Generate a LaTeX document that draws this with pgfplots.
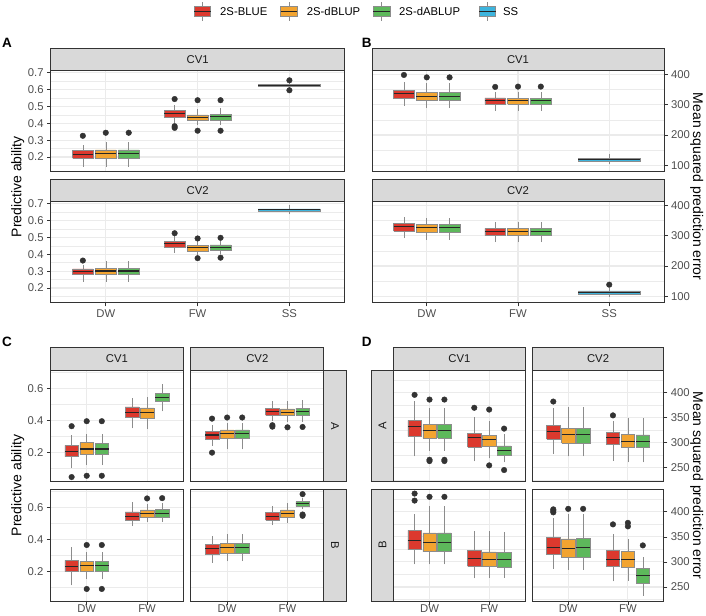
\documentclass[border=0pt]{standalone}
\usepackage{fontspec}
\setmainfont{Liberation Sans}
\usepackage{pgfplots}
\pgfplotsset{compat=1.18}

\definecolor{cRed}{HTML}{DC392E}
\definecolor{cOrange}{HTML}{F2A431}
\definecolor{cGreen}{HTML}{5DB85B}
\definecolor{cBlue}{HTML}{3DB4DD}
\definecolor{cBox}{HTML}{8C8C8C}
\definecolor{cMed}{HTML}{262626}
\definecolor{cOut}{HTML}{333333}
\definecolor{cFrame}{HTML}{333333}
\definecolor{cGrid}{HTML}{EBEBEB}
\definecolor{cStrip}{HTML}{D9D9D9}
\definecolor{cTick}{HTML}{4D4D4D}
\definecolor{cStripText}{HTML}{1A1A1A}

\newcommand\smallfont{\fontsize{11.3bp}{13bp}\selectfont}
\newcommand\titlefont{\fontsize{14bp}{16bp}\selectfont}
\newcommand\tagfont{\fontsize{13.5bp}{16bp}\selectfont\bfseries}

\pgfplotsset{
  panel/.style={
    scale only axis, anchor=north west,
    axis line style={draw=cFrame, line width=0.9bp},
    tick align=outside, major tick length=3.6bp, minor tick length=0pt,
    tick style={draw=cFrame, line width=0.7bp},
    xmajorgrids, ymajorgrids, yminorgrids,
    major grid style={draw=cGrid, line width=1.1bp},
    minor grid style={draw=cGrid, line width=0.55bp},
    ticklabel style={font=\smallfont, text=cTick},
    /pgf/number format/assume math mode=true,
    xtick pos=left, ytick pos=left,
  },
  noxlab/.style={xticklabels={}, xtick style={draw=none}},
  noylab/.style={yticklabels={}, ytick style={draw=none}},
  rightylab/.style={ytick pos=right, yticklabel pos=right},
  lowrow/.style={xticklabel style={yshift=3bp}},
  % panels A and B: three groups
  topAB/.style={panel, xmin=0.4, xmax=3.6, xtick={1,2,3}, xticklabels={DW,FW,SS}},
  ratioY/.style={ymin=0.113, ymax=0.712,
    ytick={0.2,0.3,0.4,0.5,0.6,0.7}, yticklabels={0.2,0.3,0.4,0.5,0.6,0.7},
    minor ytick={0.15,0.25,0.35,0.45,0.55,0.65}},
  mseY/.style={ymin=79, ymax=412,
    ytick={100,200,300,400}, yticklabels={100,200,300,400},
    minor ytick={150,250,350}},
  % panels C and D: two groups
  botCD/.style={panel, xmin=0.4, xmax=2.6, xtick={1,2}, xticklabels={DW,FW}},
  ratioYc/.style={ymin=0.017, ymax=0.713,
    ytick={0.2,0.4,0.6}, yticklabels={0.2,0.4,0.6},
    minor ytick={0.1,0.3,0.5,0.7}},
  mseYd/.style={ymin=222, ymax=445,
    ytick={250,300,350,400}, yticklabels={250,300,350,400},
    minor ytick={225,275,325,375,425}},
  whisk/.style={draw=cBox, line width=0.55bp},
  outl/.style={only marks, mark=*, mark size=2.8bp, draw=cOut, fill=cOut},
}

% one box: colour, position, width, lower whisker, lower quartile, median, upper quartile, upper whisker
\newcommand\bx[8]{%
  \pgfmathsetmacro\bxl{#2-#3/2}%
  \pgfmathsetmacro\bxr{#2+#3/2}%
  \addplot[whisk] coordinates {(#2,#4) (#2,#5)};
  \addplot[whisk] coordinates {(#2,#7) (#2,#8)};
  \addplot[fill=#1, draw=cBox, line width=0.55bp]
    coordinates {(\bxl,#5) (\bxr,#5) (\bxr,#7) (\bxl,#7) (\bxl,#5)};
  \addplot[draw=cMed, line width=1.1bp] coordinates {(\bxl,#6) (\bxr,#6)};}

\newcommand\stripH[5]{%
  \draw[fill=cStrip, draw=cFrame, line width=0.9bp] (#1,#3) rectangle (#2,#4);
  \node[font=\smallfont, text=cStripText] at ({(#1+#2)/2},{(#3+#4)/2}) {#5};}
\newcommand\stripV[6]{%
  \draw[fill=cStrip, draw=cFrame, line width=0.9bp] (#1,#3) rectangle (#2,#4);
  \node[font=\smallfont, text=cStripText, rotate=#6] at ({(#1+#2)/2},{(#3+#4)/2}) {#5};}
\newcommand\legkey[2]{%
  \draw[cBox, line width=0.55bp] (#1+8.35,2) -- (#1+8.35,21);
  \draw[fill=#2, draw=cBox, line width=0.55bp] (#1,6.7) rectangle (#1+16.7,16);
  \draw[cMed, line width=1.1bp] (#1,11.35) -- (#1+16.7,11.35);}

\begin{document}
\begin{tikzpicture}
\useasboundingbox (0,0) rectangle (706bp,-616bp);
\clip (0,0) rectangle (706bp,-616bp);

% ---------------- A: predictive ability, CV1 ----------------
\begin{axis}[topAB, ratioY, noxlab, at={(50.7bp,-70.7bp)}, width=293.8bp, height=101bp]
\bx{cRed}{0.75}{0.225}{0.141}{0.192}{0.216}{0.239}{0.271}
\bx{cOrange}{1}{0.225}{0.141}{0.192}{0.220}{0.243}{0.290}
\bx{cGreen}{1.25}{0.225}{0.141}{0.192}{0.220}{0.243}{0.290}
\bx{cRed}{1.75}{0.225}{0.403}{0.438}{0.458}{0.478}{0.507}
\bx{cOrange}{2}{0.225}{0.389}{0.417}{0.434}{0.450}{0.487}
\bx{cGreen}{2.25}{0.225}{0.389}{0.418}{0.440}{0.454}{0.491}
\bx{cBlue}{3}{0.675}{0.612}{0.619}{0.626}{0.633}{0.640}
\addplot[outl] coordinates {(0.75,0.326) (1,0.344) (1.25,0.344)
  (1.75,0.544) (1.75,0.383) (1.75,0.373) (2,0.537) (2,0.356)
  (2.25,0.537) (2.25,0.356) (3,0.655) (3,0.596)};
\end{axis}

% ---------------- A: predictive ability, CV2 ----------------
\begin{axis}[topAB, ratioY, at={(50.7bp,-201.7bp)}, width=293.8bp, height=101bp]
\bx{cRed}{0.75}{0.225}{0.238}{0.279}{0.297}{0.313}{0.339}
\bx{cOrange}{1}{0.225}{0.238}{0.281}{0.301}{0.317}{0.359}
\bx{cGreen}{1.25}{0.225}{0.238}{0.281}{0.301}{0.317}{0.359}
\bx{cRed}{1.75}{0.225}{0.408}{0.442}{0.462}{0.478}{0.506}
\bx{cOrange}{2}{0.225}{0.398}{0.420}{0.438}{0.452}{0.478}
\bx{cGreen}{2.25}{0.225}{0.400}{0.422}{0.440}{0.456}{0.480}
\bx{cBlue}{3}{0.675}{0.638}{0.656}{0.664}{0.670}{0.692}
\addplot[outl] coordinates {(0.75,0.363) (1.75,0.525) (2,0.494) (2,0.377)
  (2.25,0.498) (2.25,0.380)};
\end{axis}

% ---------------- B: mean squared prediction error, CV1 ----------------
\begin{axis}[topAB, mseY, noxlab, rightylab, at={(372bp,-70.7bp)}, width=292bp, height=101bp]
\bx{cRed}{0.75}{0.225}{297}{320}{336.6}{347.5}{376}
\bx{cOrange}{1}{0.225}{288.5}{316}{328}{341}{370}
\bx{cGreen}{1.25}{0.225}{288.5}{316}{328}{341}{370}
\bx{cRed}{1.75}{0.225}{280}{301.6}{312.6}{322.4}{341}
\bx{cOrange}{2}{0.225}{280}{301.6}{312.6}{321}{343}
\bx{cGreen}{2.25}{0.225}{280}{300.5}{312.6}{321}{343}
\bx{cBlue}{3}{0.675}{103}{114}{119}{124}{139}
\addplot[outl] coordinates {(0.75,398) (1,390) (1.25,390) (1.75,358.5)
  (2,359.6) (2.25,359.6)};
\end{axis}

% ---------------- B: mean squared prediction error, CV2 ----------------
\begin{axis}[topAB, mseY, rightylab, at={(372bp,-201.7bp)}, width=292bp, height=101bp]
\bx{cRed}{0.75}{0.225}{291.6}{314.6}{330}{340.9}{360.6}
\bx{cOrange}{1}{0.225}{287}{310.2}{325.5}{336.5}{357}
\bx{cGreen}{1.25}{0.225}{287}{310.2}{325.5}{336.5}{357}
\bx{cRed}{1.75}{0.225}{278.4}{300.3}{313.5}{324.4}{344}
\bx{cOrange}{2}{0.225}{278.4}{300.3}{313.5}{323.3}{344}
\bx{cGreen}{2.25}{0.225}{278.4}{300.3}{313.5}{323.3}{344}
\bx{cBlue}{3}{0.675}{98}{108}{113}{118}{126}
\addplot[outl] coordinates {(3,138.4)};
\end{axis}

% ---------------- C: predictive ability by population ----------------
\begin{axis}[botCD, ratioYc, noxlab, at={(50.5bp,-370bp)}, width=132.8bp, height=111.7bp]
\bx{cRed}{0.75}{0.225}{0.104}{0.173}{0.206}{0.244}{0.308}
\bx{cOrange}{1}{0.225}{0.121}{0.187}{0.221}{0.260}{0.317}
\bx{cGreen}{1.25}{0.225}{0.121}{0.185}{0.221}{0.258}{0.317}
\bx{cRed}{1.75}{0.225}{0.350}{0.417}{0.450}{0.483}{0.540}
\bx{cOrange}{2}{0.225}{0.344}{0.415}{0.446}{0.477}{0.544}
\bx{cGreen}{2.25}{0.225}{0.456}{0.517}{0.544}{0.569}{0.625}
\addplot[outl] coordinates {(0.75,0.363) (0.75,0.046) (1,0.394) (1,0.054)
  (1.25,0.394) (1.25,0.054)};
\end{axis}
\begin{axis}[botCD, ratioYc, noxlab, noylab, at={(190.9bp,-370bp)}, width=132.8bp, height=111.7bp]
\bx{cRed}{0.75}{0.225}{0.240}{0.281}{0.308}{0.331}{0.369}
\bx{cOrange}{1}{0.225}{0.219}{0.287}{0.317}{0.340}{0.380}
\bx{cGreen}{1.25}{0.225}{0.219}{0.287}{0.317}{0.340}{0.380}
\bx{cRed}{1.75}{0.225}{0.396}{0.431}{0.454}{0.473}{0.519}
\bx{cOrange}{2}{0.225}{0.390}{0.429}{0.450}{0.471}{0.519}
\bx{cGreen}{2.25}{0.225}{0.392}{0.433}{0.456}{0.475}{0.523}
\addplot[outl] coordinates {(0.75,0.410) (0.75,0.198) (1,0.417) (1.25,0.417)
  (1.75,0.369) (1.75,0.360) (2,0.356) (2.25,0.358)};
\end{axis}
\begin{axis}[botCD, lowrow, ratioYc, at={(50.5bp,-489.3bp)}, width=132.8bp, height=111.7bp]
\bx{cRed}{0.75}{0.225}{0.115}{0.200}{0.231}{0.270}{0.353}
\bx{cOrange}{1}{0.225}{0.152}{0.200}{0.237}{0.264}{0.324}
\bx{cGreen}{1.25}{0.225}{0.152}{0.200}{0.237}{0.264}{0.324}
\bx{cRed}{1.75}{0.225}{0.484}{0.519}{0.546}{0.573}{0.637}
\bx{cOrange}{2}{0.225}{0.511}{0.536}{0.561}{0.585}{0.621}
\bx{cGreen}{2.25}{0.225}{0.511}{0.538}{0.565}{0.588}{0.625}
\addplot[outl] coordinates {(1,0.366) (1,0.092) (1.25,0.366) (1.25,0.092)
  (2,0.656) (2.25,0.658)};
\end{axis}
\begin{axis}[botCD, lowrow, ratioYc, noylab, at={(190.9bp,-489.3bp)}, width=132.8bp, height=111.7bp]
\bx{cRed}{0.75}{0.225}{0.254}{0.306}{0.343}{0.370}{0.424}
\bx{cOrange}{1}{0.225}{0.266}{0.312}{0.349}{0.374}{0.432}
\bx{cGreen}{1.25}{0.225}{0.266}{0.312}{0.349}{0.374}{0.432}
\bx{cRed}{1.75}{0.225}{0.490}{0.521}{0.544}{0.567}{0.608}
\bx{cOrange}{2}{0.225}{0.500}{0.536}{0.563}{0.585}{0.627}
\bx{cGreen}{2.25}{0.225}{0.590}{0.606}{0.623}{0.637}{0.660}
\addplot[outl] coordinates {(2.25,0.683) (2.25,0.556) (2.25,0.548)};
\end{axis}

% ---------------- D: mean squared prediction error by population ----------------
\begin{axis}[botCD, mseYd, noxlab, noylab, at={(393.7bp,-370bp)}, width=131.3bp, height=111.7bp]
\bx{cRed}{0.75}{0.225}{272.4}{312.8}{332}{344.5}{384}
\bx{cOrange}{1}{0.225}{283.7}{309.5}{324.7}{336.5}{369}
\bx{cGreen}{1.25}{0.225}{283.7}{309.5}{324.7}{336.5}{369}
\bx{cRed}{1.75}{0.225}{262.5}{291.6}{309.5}{318}{351.8}
\bx{cOrange}{2}{0.225}{268.5}{292.9}{305.5}{314.7}{343}
\bx{cGreen}{2.25}{0.225}{260.5}{275}{283.7}{293.6}{316.7}
\addplot[outl] coordinates {(0.75,395.4) (1,386) (1,265.8) (1,263.2)
  (1.25,386) (1.25,265.8) (1.25,263.2) (1.75,369.6) (2,366) (2,254.6)
  (2.25,328) (2.25,245.3)};
\end{axis}
\begin{axis}[botCD, mseYd, noxlab, rightylab, at={(532.4bp,-370bp)}, width=131.3bp, height=111.7bp]
\bx{cRed}{0.75}{0.225}{277}{306.8}{322.7}{335.2}{369.6}
\bx{cOrange}{1}{0.225}{272.4}{298.9}{315.4}{328}{371}
\bx{cGreen}{1.25}{0.225}{272.4}{298.9}{315.4}{328}{371}
\bx{cRed}{1.75}{0.225}{263.8}{296.2}{310}{320}{343}
\bx{cOrange}{2}{0.225}{260.5}{290.3}{302.8}{316.7}{348.4}
\bx{cGreen}{2.25}{0.225}{260.5}{290.3}{301.5}{315.4}{348.4}
\addplot[outl] coordinates {(0.75,382) (1.75,354.4)};
\end{axis}
\begin{axis}[botCD, lowrow, mseYd, noylab, at={(393.7bp,-489.3bp)}, width=131.3bp, height=111.7bp]
\bx{cRed}{0.75}{0.225}{295}{324.7}{342.5}{363}{395}
\bx{cOrange}{1}{0.225}{295}{320.5}{339}{358}{411}
\bx{cGreen}{1.25}{0.225}{295}{320.5}{339}{358}{411}
\bx{cRed}{1.75}{0.225}{267}{291.3}{307}{322.5}{362}
\bx{cOrange}{2}{0.225}{268}{290.5}{304.7}{320}{361}
\bx{cGreen}{2.25}{0.225}{268}{290}{304.7}{319.5}{360}
\addplot[outl] coordinates {(0.75,436.5) (0.75,422.5) (1,430) (1.25,430)};
\end{axis}
\begin{axis}[botCD, lowrow, mseYd, rightylab, at={(532.4bp,-489.3bp)}, width=131.3bp, height=111.7bp]
\bx{cRed}{0.75}{0.225}{286.7}{314.5}{329.5}{348.7}{387.5}
\bx{cOrange}{1}{0.225}{284.5}{308.7}{327.5}{346}{396}
\bx{cGreen}{1.25}{0.225}{284.5}{308.7}{328.5}{346.5}{396}
\bx{cRed}{1.75}{0.225}{261.4}{291}{305.5}{323}{355}
\bx{cOrange}{2}{0.225}{262.5}{289}{304}{321}{346.5}
\bx{cGreen}{2.25}{0.225}{232}{257.5}{272.5}{286.7}{310.5}
\addplot[outl] coordinates {(0.75,399) (0.75,402) (0.75,405) (1,406) (1.25,406)
  (1.75,375) (2,378) (2,371) (2.25,333)};
\end{axis}

% ---------------- strips, titles, tags and legend ----------------
\begin{scope}[x=1bp, y=-1bp]
\stripH{50.7}{344.5}{48.3}{70.7}{CV1}
\stripH{50.7}{344.5}{179.3}{201.7}{CV2}
\stripH{372}{664}{48.3}{70.7}{CV1}
\stripH{372}{664}{179.3}{201.7}{CV2}
\stripH{50.5}{183.3}{347.8}{370}{CV1}
\stripH{190.9}{323.7}{347.8}{370}{CV2}
\stripV{323.7}{346.5}{370}{481.7}{A}{-90}
\stripV{323.7}{346.5}{489.3}{601}{B}{-90}
\stripH{393.7}{525}{347.8}{370}{CV1}
\stripH{532.4}{663.7}{347.8}{370}{CV2}
\stripV{371.5}{393.7}{370}{481.7}{A}{90}
\stripV{371.5}{393.7}{489.3}{601}{B}{90}

\node[rotate=90, font=\titlefont] at (17.7,186.7) {Predictive ability};
\node[rotate=-90, font=\titlefont] at (696.7,186.7) {Mean squared prediction error};
\node[rotate=90, font=\titlefont] at (17.7,485.5) {Predictive ability};
\node[rotate=-90, font=\titlefont] at (696.7,485.5) {Mean squared prediction error};

\node[anchor=west, inner sep=0pt, font=\tagfont] at (2,42.8) {A};
\node[anchor=west, inner sep=0pt, font=\tagfont] at (361.7,42.8) {B};
\node[anchor=west, inner sep=0pt, font=\tagfont] at (2,341.7) {C};
\node[anchor=west, inner sep=0pt, font=\tagfont] at (361.7,341.7) {D};

\legkey{194}{cRed}
\node[anchor=west, inner sep=0pt, font=\smallfont] at (220,11.3) {2S-BLUE};
\legkey{280.7}{cOrange}
\node[anchor=west, inner sep=0pt, font=\smallfont] at (306.7,11.3) {2S-dBLUP};
\legkey{373.3}{cGreen}
\node[anchor=west, inner sep=0pt, font=\smallfont] at (399,11.3) {2S-dABLUP};
\legkey{479}{cBlue}
\node[anchor=west, inner sep=0pt, font=\smallfont] at (503,11.3) {SS};
\end{scope}
\end{tikzpicture}
\end{document}
